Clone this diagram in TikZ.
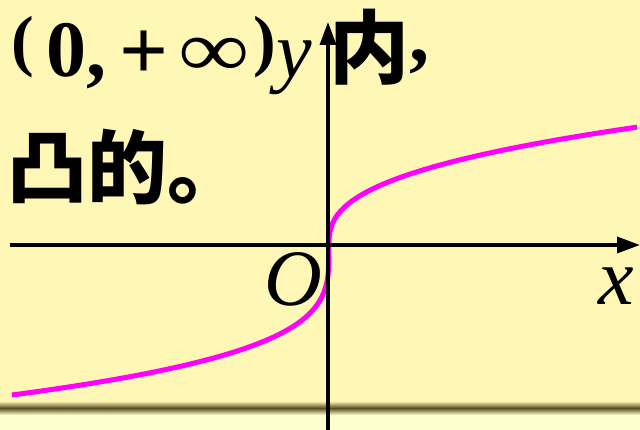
\documentclass[tikz,border=0pt]{standalone}
\usepackage{fontspec}
\setmainfont{Liberation Serif}
\newfontfamily\cjk{Noto Sans CJK SC}
\usetikzlibrary{arrows.meta}
\definecolor{bg}{RGB}{255,247,181}
\definecolor{bgl}{RGB}{255,255,206}
\definecolor{band}{RGB}{88,78,34}
\definecolor{curvecol}{RGB}{255,0,255}
\begin{document}
\begin{tikzpicture}[x=1pt,y=-1pt,
  axisline/.style={line width=3.5pt,draw=black,-{Triangle[length=23pt,width=16pt]}},
  graphline/.style={line width=5pt,draw=curvecol,line join=round},
  txt/.style={inner sep=0pt,outer sep=0pt,anchor=base west},
  boldtxt/.style={txt,font=\fontsize{80}{80}\selectfont\bfseries},
  regtxt/.style={txt,font=\fontsize{80}{80}\selectfont},
  itxt/.style={txt,font=\fontsize{80}{80}\selectfont\itshape},
  cjktxt/.style={txt,font=\fontsize{80}{80}\selectfont\cjk\bfseries}]
\useasboundingbox (0,0) rectangle (640,430);
\fill[bg] (0,0) rectangle (640,430);
\shade[top color=bg,bottom color=bgl,middle color=band] (0,401) rectangle (640,415);
\fill[bgl] (0,415) rectangle (640,430);
% curve
\coordinate (org) at (329,245);
\draw[graphline] plot[domain=1:0.003,samples=150] ({329-317*pow(\x,3.57)},{245+150*\x})
  -- (org)
  -- plot[domain=0.003:1,samples=150] ({329+309*pow(\x,2.63)},{245-118*\x});
% axes
\coordinate (xs) at (10,245);
\coordinate (xe) at (640,245);
\coordinate (ys) at (328,430);
\coordinate (ye) at (328,22);
\draw[axisline] (xs) -- (xe);
\draw[axisline] (ys) -- (ye);
% labels
\node[txt,font=\fontsize{68}{68}\selectfont\bfseries] (po) at (12,64) {(};
\node[boldtxt] (zero) at (46,77) {0,};
\node[txt,font=\fontsize{86}{86}\selectfont\bfseries] (plus) at (119,80) {+};
\node[regtxt] (inf) at (178,77) {\scalebox{1.25}[1]{∞}};
\node[txt,font=\fontsize{68}{68}\selectfont\bfseries] (pc) at (253,64) {)};
\node[itxt] (ylab) at (276,78) {y};
\node[cjktxt] (nei) at (329,78) {内};
\node[boldtxt] (comma) at (409,62) {,};
\node[cjktxt] (tu) at (8,198) {凸的。};
\node[itxt] (olab) at (264,306) {O};
\node[itxt] (xlab) at (598,305) {x};
\end{tikzpicture}
\end{document}
